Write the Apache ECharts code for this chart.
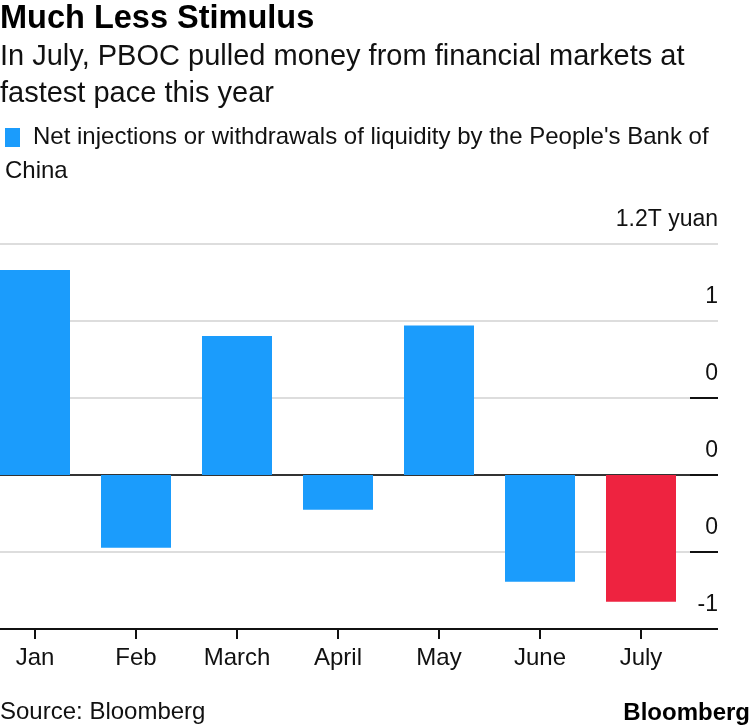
<!DOCTYPE html>
<html>
<head>
<meta charset="utf-8">
<script src="https://cdn.jsdelivr.net/npm/echarts@6/dist/echarts.min.js"></script>
<style>
html,body{margin:0;padding:0;background:#fff;}
#chart{width:750px;height:726px;}
</style>
</head>
<body>
<div id="chart"></div>
<script>
// ---- data ----
const categories = ['Jan', 'Feb', 'March', 'April', 'May', 'June', 'July'];
const values = [1.065, -0.378, 0.722, -0.18, 0.776, -0.554, -0.658];
const highlightCategory = 'July';
const yTickValues = [-0.8, -0.4, 0, 0.4, 0.8, 1.2];
const yTickLabels = ['-1', '0', '0', '0', '1', '1.2T yuan'];
const titleText = 'Much Less Stimulus';
const subtitleLines = ['In July, PBOC pulled money from financial markets at', 'fastest pace this year'];
const legendLines = ["Net injections or withdrawals of liquidity by the People's Bank of", 'China'];
const sourceText = 'Source: Bloomberg';

// ---- styles ----
const FONT = '"Liberation Sans", Arial, Helvetica, sans-serif';
const BLUE = '#1b9cfc';
const RED = '#ee2340';
const Y_MIN = yTickValues[0], Y_MAX = yTickValues[yTickValues.length - 1], Y_INT = 0.4;

function tickLabel(v) {
  let best = 0, bd = Infinity;
  yTickValues.forEach((t, i) => { const d = Math.abs(t - v); if (d < bd) { bd = d; best = i; } });
  return yTickLabels[best];
}

const chart = echarts.init(document.getElementById('chart'), null, { renderer: 'canvas' });

const gridTop = 244, gridBottom = 97;

const option = {
  animation: false,
  backgroundColor: '#fff',
  textStyle: { fontFamily: FONT },
  grid: [
    { left: 0, right: 32, top: gridTop, bottom: gridBottom, outerBoundsMode: 'none', containLabel: false },
    { left: -15.5, width: 707, top: gridTop, bottom: gridBottom, outerBoundsMode: 'none', containLabel: false },
    { left: 690, right: 32, top: gridTop, bottom: gridBottom, outerBoundsMode: 'none', containLabel: false }
  ],
  xAxis: [
    { gridIndex: 0, type: 'value', show: false },
    {
      gridIndex: 1, type: 'category', data: categories,
      axisLine: { show: false, onZero: false },
      axisTick: { show: true, alignWithLabel: true, length: 10, lineStyle: { color: '#111', width: 2 } },
      axisLabel: { color: '#111', fontSize: 24, fontFamily: FONT, margin: 17 },
      splitLine: { show: false }
    },
    { gridIndex: 2, type: 'value', show: false }
  ],
  yAxis: [
    {
      gridIndex: 0, type: 'value', min: Y_MIN, max: Y_MAX, interval: Y_INT, position: 'right',
      axisLine: { show: false }, axisTick: { show: false },
      axisLabel: {
        inside: true, color: '#111', fontSize: 23, fontFamily: FONT,
        verticalAlign: 'bottom', lineHeight: 24, padding: [0, 0, 12, 0], margin: 0,
        formatter: tickLabel
      },
      splitLine: { show: true, lineStyle: { color: ['#111', '#dddddd', '#333', '#dddddd', '#dddddd', '#dddddd'], width: 2 } }
    },
    { gridIndex: 1, type: 'value', min: Y_MIN, max: Y_MAX, interval: Y_INT, show: false },
    {
      gridIndex: 2, type: 'value', min: Y_MIN, max: Y_MAX, interval: Y_INT,
      axisLine: { show: false }, axisTick: { show: false }, axisLabel: { show: false },
      splitLine: { show: true, lineStyle: { color: ['#111', '#111', '#111', '#111', 'rgba(0,0,0,0)', 'rgba(0,0,0,0)'], width: 2 } }
    }
  ],
  series: [{
    type: 'bar',
    name: legendLines.join(' '),
    xAxisIndex: 1, yAxisIndex: 1,
    barWidth: 70,
    data: values.map((v, i) => ({
      value: v,
      itemStyle: { color: categories[i] === highlightCategory ? RED : BLUE }
    }))
  }],
  graphic: [
    { type: 'text', left: 0, top: 3, style: { text: titleText, font: 'bold 32.5px ' + FONT, fill: '#000' } },
    { type: 'text', left: 0, top: 38, style: { text: subtitleLines.join('\n'), font: '29px ' + FONT, fill: '#111', lineHeight: 37 } },
    { type: 'rect', left: 5, top: 128, shape: { width: 15, height: 19 }, style: { fill: BLUE } },
    { type: 'text', left: 33, top: 125, style: { text: legendLines[0], font: '24px ' + FONT, fill: '#111' } },
    { type: 'text', left: 5, top: 159, style: { text: legendLines[1], font: '24px ' + FONT, fill: '#111' } },
    { type: 'text', left: 0, top: 700, style: { text: sourceText, font: '24px ' + FONT, fill: '#111' } },
    { type: 'text', right: 0, top: 701, style: { text: 'Bloomberg', font: 'bold 24px ' + FONT, fill: '#000' } }
  ]
};
chart.setOption(option);
</script>
</body>
</html>
